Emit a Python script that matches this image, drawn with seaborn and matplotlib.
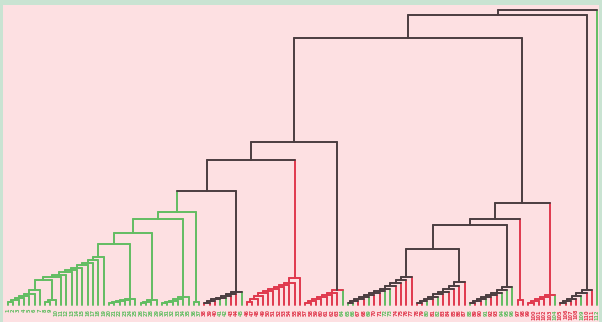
import matplotlib
matplotlib.use("Agg")
import matplotlib.pyplot as plt
import pandas as pd
import seaborn as sns

# --- data (heights ~ merge distance) ---
# green staircase on the left
g_base_heights = [3, 5, 7, 9, 11, 15]          # 7 leaves
g_pair_heights = [3, 5]                        # 3 leaves
g_base_join = 25
g_step_heights = [28, 30, 33, 35, 37, 40, 42, 45, 48]   # one leaf per step
g_chain_a = [2, 3, 4, 5, 6]
g_chain_b = [2, 3, 5]
g_chain_c = [2, 3, 4, 6, 8]
g_chain_d = [3]
g_spine_heights = [61, 72, 86, 93]

k_heights = [2, 4, 6, 7, 9, 11, 13]
r1_heights = [3, 6, 9, 12, 14, 16, 18, 20, 22, 27]
r2_heights = [2, 4, 6, 8, 10, 12, 15]
d_spine_heights = [114, 145, 163]

e3l_heights = [2, 4, 6, 8, 10, 12, 14, 16, 19, 22, 25, 28]
e3r_heights = [2, 4, 6, 8, 11, 13, 16, 19, 23]
e2r_heights = [2, 4, 6, 8, 10, 12, 15, 18]
e1r_heights = [5]
er_heights = [2, 4, 6, 8, 10]
c_heights = [2, 4, 6, 9, 12, 15]
e_spine_heights = [56, 80, 86, 102]
top_heights = [267, 290, 295]

# leaf label colours, left to right (g = green, r = red)
g_labels = "g" * 37
k_labels = "rrrggrrg"
r1_labels = "r" * 11
r2_labels = "rrrrrrrg"
e3l_labels = "ggrrgrrggrrrr"
e3r_labels = "rrgrgrrrrr"
e2r_labels = "grrgrrggg"
e1r_labels = "rr"
er_labels = "rrrrrg"
c_labels = "rrrrgrr"
z_labels = "g"

COLORS = {"g": "#62bd62", "r": "#e0394d", "k": "#4b3d40"}

segments = []
leaf_cols = []
label_iter = iter(g_labels + k_labels + r1_labels + r2_labels + e3l_labels + e3r_labels
                  + e2r_labels + e1r_labels + er_labels + c_labels + z_labels)


def leaf():
    c = next(label_iter)
    leaf_cols.append(c)
    return {"x": float(len(leaf_cols) - 1), "h": 0.0, "c": c}


def join(left, right, h, c):
    for child in (left, right):
        segments.append(([child["x"], child["x"]], [child["h"], h], child["c"]))
    segments.append(([left["x"], right["x"]], [h, h], c))
    return {"x": (left["x"] + right["x"]) / 2, "h": h, "c": c}


def chain(heights, c, top=None):
    node = leaf()
    for h in heights:
        node = join(node, leaf(), h, c)
    if top:
        node["c"] = top
    return node


# build the tree left to right
g = join(chain(g_base_heights, "g"), chain(g_pair_heights, "g"), g_base_join, "g")
for h in g_step_heights:
    g = join(g, leaf(), h, "g")
for sub, h in zip([g_chain_a, g_chain_b, g_chain_c, g_chain_d], g_spine_heights):
    g = join(g, chain(sub, "g"), h, "g")

d = g
for sub, h in zip([chain(k_heights, "k"), chain(r1_heights, "r"),
                   chain(r2_heights, "r", top="k")], d_spine_heights):
    d = join(d, sub, h, "k")

e = chain(e3l_heights, "k")
for sub, h in zip([chain(e3r_heights, "k"), chain(e2r_heights, "k"),
                   chain(e1r_heights, "r"), chain(er_heights, "r")], e_spine_heights):
    e = join(e, sub, h, "k")
e = {**e, "c": "k"}

b = join(d, e, top_heights[0], "k")
a = join(b, chain(c_heights, "k"), top_heights[1], "k")
root = join(a, leaf(), top_heights[2], "k")

rows = []
for i, (xs, hs, c) in enumerate(segments):
    for x, h in zip(xs, hs):
        rows.append({"seg": i, "x": x, "h": h, "kind": c})
df = pd.DataFrame(rows)

sns.set_style("white")
fig = plt.figure(figsize=(6.02, 3.22), dpi=100, facecolor="#c9e3d2")
ax = fig.add_axes([3 / 602, 0, 596 / 602, 317 / 322])
ax.set_facecolor("#fde0e2")

sns.lineplot(data=df, x="x", y="h", units="seg", estimator=None, hue="kind",
             palette=COLORS, sort=False, legend=False, linewidth=1.4, ax=ax)

# tiny leaf labels under the tree
for i, c in enumerate(leaf_cols):
    ax.text(i, -4, str(i + 1), rotation=90, ha="center", va="top",
            fontsize=3.6, fontweight="bold", color=COLORS[c])

ax.set_xlim(-0.94, 111.3)
ax.set_ylim(-17, 300)
ax.set_xlabel("")
ax.set_ylabel("")
ax.set_xticks([])
ax.set_yticks([])
for spine in ax.spines.values():
    spine.set_visible(False)

fig.savefig("out.png", dpi=100, facecolor=fig.get_facecolor())
